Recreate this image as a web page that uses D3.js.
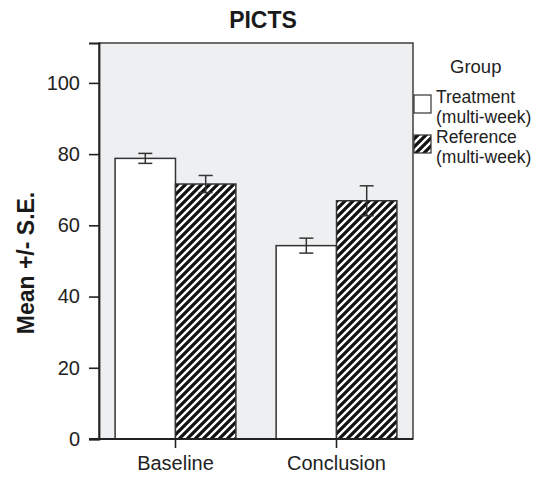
<!DOCTYPE html>
<html>
<head>
<meta charset="utf-8">
<script src="https://cdn.jsdelivr.net/npm/d3@7"></script>
<style>
  body { margin: 0; background: #fff; }
  svg { font-family: "Liberation Sans", Arial, sans-serif; }
</style>
</head>
<body>
<div id="chart"></div>
<script>
(function(d3) {
    "use strict";

    // data
    var times = ["Baseline", "Conclusion"];
    var groups = ["Treatment (multi-week)", "Reference (multi-week)"];
    var treatmentMean = [78.8, 54.3];
    var treatmentSE = [1.4, 2.1];
    var referenceMean = [71.6, 66.9];
    var referenceSE = [2.4, 4.2];
    var yTicks = [0, 20, 40, 60, 80, 100];

    var width = 542, height = 478;
    var margin = { top: 43, right: 129, bottom: 39, left: 99 },
        plotW = width - margin.left - margin.right,
        plotH = height - margin.top - margin.bottom;

    var rows = [];
    times.forEach(function(t, i) {
        rows.push({ time: t, group: groups[0], mean: treatmentMean[i], se: treatmentSE[i] });
        rows.push({ time: t, group: groups[1], mean: referenceMean[i], se: referenceSE[i] });
    });

    var svg = d3.select("#chart").append("svg")
        .attr("width", width)
        .attr("height", height);

    var defs = svg.append("defs");
    var pat = defs.append("pattern")
        .attr("id", "hatch")
        .attr("patternUnits", "userSpaceOnUse")
        .attr("width", 8)
        .attr("height", 8);
    pat.append("rect").attr("width", 8).attr("height", 8).attr("fill", "#111");
    pat.append("path")
        .attr("d", "M-2,2 l4,-4 M0,8 l8,-8 M6,10 l4,-4")
        .attr("stroke", "#fff")
        .attr("stroke-width", 2.4);

    var fillFor = function(g) { return g === groups[0] ? "#fff" : "url(#hatch)"; };

    var g = svg.append("g")
        .attr("transform", "translate(" + margin.left + "," + margin.top + ")");

    var x = d3.scaleBand().domain(times).range([0, plotW]).paddingInner(0.25).paddingOuter(0.1);
    var xg = d3.scaleBand().domain(groups).range([0, x.bandwidth()]);
    var y = d3.scaleLinear().domain([0, 111.2]).range([plotH, 0]);

    // plot background
    g.append("rect")
        .attr("width", plotW)
        .attr("height", plotH)
        .attr("fill", "#eeeff1")
        .attr("stroke", "#222")
        .attr("stroke-width", 1.3);

    // bars
    g.selectAll(".bar")
        .data(rows)
        .enter().append("rect")
        .attr("class", "bar")
        .attr("x", function(d) { return x(d.time) + xg(d.group); })
        .attr("y", function(d) { return y(d.mean); })
        .attr("width", xg.bandwidth())
        .attr("height", function(d) { return plotH - y(d.mean); })
        .attr("fill", function(d) { return fillFor(d.group); })
        .attr("stroke", "#333")
        .attr("stroke-width", 1.5);

    // error bars
    var cap = 7;
    var eb = g.selectAll(".err")
        .data(rows)
        .enter().append("g")
        .attr("class", "err")
        .attr("transform", function(d) { return "translate(" + (x(d.time) + xg(d.group) + xg.bandwidth() / 2) + ",0)"; })
        .attr("stroke", "#333")
        .attr("stroke-width", 1.5);
    eb.append("line")
        .attr("y1", function(d) { return y(d.mean + d.se); })
        .attr("y2", function(d) { return y(d.mean - d.se); });
    eb.append("line")
        .attr("x1", -cap).attr("x2", cap)
        .attr("y1", function(d) { return y(d.mean + d.se); })
        .attr("y2", function(d) { return y(d.mean + d.se); });
    eb.append("line")
        .attr("x1", -cap).attr("x2", cap)
        .attr("y1", function(d) { return y(d.mean - d.se); })
        .attr("y2", function(d) { return y(d.mean - d.se); });

    // axes
    var yAxis = g.append("g")
        .call(d3.axisLeft(y).tickValues(yTicks).tickSize(10).tickPadding(9));
    var xAxis = g.append("g")
        .attr("transform", "translate(0," + plotH + ")")
        .call(d3.axisBottom(x).tickSize(10).tickPadding(7));
    [yAxis, xAxis].forEach(function(a) {
        a.select(".domain").attr("stroke", "#222").attr("stroke-width", 1.8);
        a.selectAll(".tick line").attr("stroke", "#222").attr("stroke-width", 1.6);
        a.selectAll("text")
            .attr("fill", "#222")
            .style("font-size", "20px")
            .style("font-family", "Liberation Sans, Arial, sans-serif");
    });
    xAxis.select(".domain").attr("d", "M-10,0H" + plotW);
    xAxis.selectAll(".tick line").attr("y2", 9);

    // title
    svg.append("text")
        .attr("x", 263)
        .attr("y", 28)
        .attr("text-anchor", "middle")
        .attr("font-weight", "bold")
        .attr("font-size", 23)
        .attr("fill", "#1a1a1a")
        .text("PICTS");

    // y label
    svg.append("text")
        .attr("transform", "translate(34,263) rotate(-90)")
        .attr("text-anchor", "middle")
        .attr("font-weight", "bold")
        .attr("font-size", 23)
        .attr("fill", "#1a1a1a")
        .text("Mean +/- S.E.");

    // legend
    var leg = svg.append("g").attr("transform", "translate(414,0)");
    leg.append("text")
        .attr("x", 36).attr("y", 73)
        .attr("font-size", 18.5)
        .attr("fill", "#222")
        .text("Group");
    var items = leg.selectAll(".item")
        .data(groups)
        .enter().append("g")
        .attr("class", "item")
        .attr("transform", function(d, i) { return "translate(0," + (95 + i * 40) + ")"; });
    items.append("rect")
        .attr("width", 17).attr("height", 18)
        .attr("fill", fillFor)
        .attr("stroke", "#333")
        .attr("stroke-width", 1.2);
    items.append("text")
        .attr("x", 22).attr("y", 8)
        .attr("font-size", 17.5)
        .attr("fill", "#222")
        .text(function(d) { return d.split(" ")[0]; });
    items.append("text")
        .attr("x", 22).attr("y", 28)
        .attr("font-size", 17.5)
        .attr("fill", "#222")
        .text(function(d) { return d.split(" ")[1]; });

})(d3);
</script>
</body>
</html>
